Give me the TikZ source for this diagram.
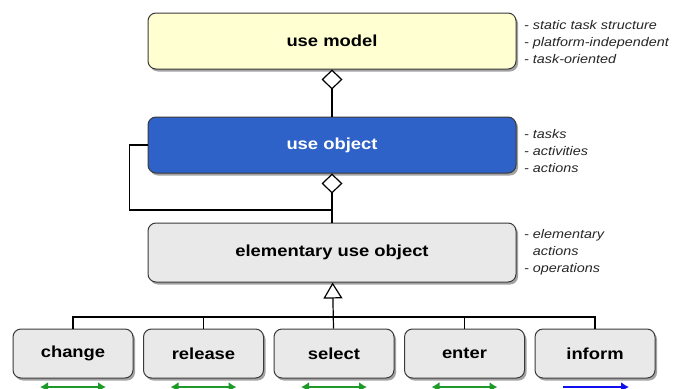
\documentclass[tikz,border=0pt]{standalone}
\usepackage{fontspec}
\setmainfont{Liberation Sans}[FakeStretch=1.15]
\usetikzlibrary{arrows.meta,positioning,shadows}
\definecolor{modelyellow}{HTML}{FFFFD2}
\definecolor{objectblue}{HTML}{2F62C8}
\definecolor{elemgray}{HTML}{E9E9E9}
\definecolor{boxborder}{HTML}{3A3A3A}
\definecolor{flowgreen}{HTML}{1E9A2A}
\definecolor{flowblue}{HTML}{1010F0}
\tikzset{
  usebox/.style={draw=boxborder,line width=1pt,rounded corners=8pt,minimum width=368pt,minimum height=56pt,font=\bfseries\fontsize{16}{19}\selectfont,drop shadow={shadow xshift=2pt,shadow yshift=-2.5pt,fill=black!45,opacity=0.8}},
  actbox/.style={usebox,fill=elemgray,minimum width=120pt,minimum height=49pt},
  notenode/.style={anchor=west,inner sep=0pt,align=left,font=\itshape\fontsize{12.5}{17}\selectfont,text=black!85},
  partof/.style={-{Diamond[open,fill=white,length=20pt,width=21pt]},line width=1.2pt},
  kindof/.style={-{Triangle[open,fill=white,length=16pt,width=19pt]},line width=1.2pt},
  plainline/.style={line width=1.2pt},
  flowarrow/.style={{Latex[length=8pt,width=10pt]}-{Latex[length=8pt,width=10pt]},line width=2pt,draw=flowgreen},
}
\begin{document}
\begin{tikzpicture}[x=1pt,y=-1pt]
  \clip (0,0) rectangle (687,388);
  \node[usebox,fill=modelyellow] (model) at (332,41) {use model};
  \node[usebox,fill=objectblue,text=white,below=47pt of model] (obj) {use object};
  \node[usebox,fill=elemgray,minimum height=59pt,below=49pt of obj] (elem) {elementary use object};
  \node[actbox] (change) at (73,353.5) {change};
  \node[actbox,right=9.5pt of change] (release) {release};
  \node[actbox,right=9.5pt of release] (select) {select};
  \node[actbox,right=9.5pt of select] (enter) {enter};
  \node[actbox,right=9.5pt of enter] (inform) {inform};
  % notes on the right
  \node[notenode] (modelnote) at (524,42) {- static task structure\\- platform-independent\\- task-oriented};
  \node[notenode] (objnote) at (524,151) {- tasks\\- activities\\- actions};
  \node[notenode] (elemnote) at (524,252) {- elementary\\\phantom{- }actions\\- operations};
  % aggregation
  \draw[partof] (obj) -- (model);
  \draw[partof] (elem) -- (obj);
  \coordinate (loopjoin) at (332,210);
  \draw[plainline] (obj.west) -- ++(-18,0) |- (loopjoin);
  % specialisation
  \draw[kindof] (select) -- (elem);
  \coordinate (bar) at (332,317);
  \draw[plainline] (change.north) |- (bar) -| (inform.north);
  \draw[plainline] (release.north) -- (release.north |- bar);
  \draw[plainline] (enter.north) -- (enter.north |- bar);
  % flows below
  \foreach \act in {change,release,select,enter}{
    \coordinate (\act-l) at ([xshift=-33pt,yshift=-8.5pt]\act.south);
    \coordinate (\act-r) at ([xshift=33pt,yshift=-8.5pt]\act.south);
    \draw[flowarrow] (\act-l) -- (\act-r);
  }
  \coordinate (inform-l) at ([xshift=-32pt,yshift=-8.5pt]inform.south);
  \coordinate (inform-r) at ([xshift=34pt,yshift=-8.5pt]inform.south);
  \draw[flowarrow,-{Latex[length=8pt,width=10pt]},draw=flowblue] (inform-l) -- (inform-r);
\end{tikzpicture}
\end{document}
